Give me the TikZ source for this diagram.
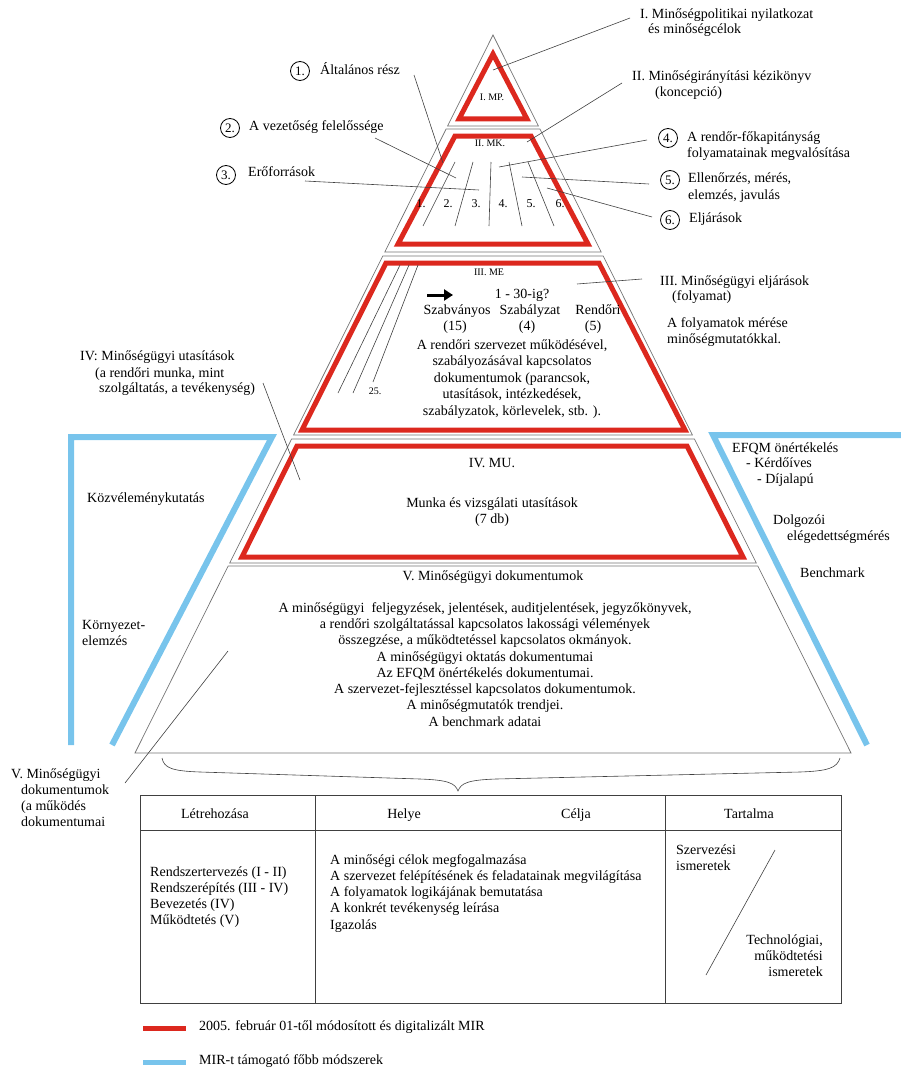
\documentclass[tikz,border=0pt]{standalone}
\usepackage{fontspec}
\setmainfont{Liberation Serif}
\usetikzlibrary{arrows.meta}
\definecolor{myred}{RGB}{220,40,30}
\definecolor{myblue}{RGB}{120,196,236}
\newcommand\setfs[1]{\fontsize{#1}{#1}\selectfont}
\begin{document}
\begin{tikzpicture}[x=1pt,y=-1pt,
  lvl/.style={draw=black!55, line width=0.7pt},
  redbox/.style={draw=myred, line width=5pt, line join=miter},
  blueline/.style={draw=myblue, line width=6pt, line join=miter},
  leader/.style={draw=black!75, line width=0.6pt},
  tbl/.style={draw=black!75, line width=0.8pt},
  tx/.style={font=\setfs{14}, inner sep=0pt},
  L/.style={tx, anchor=mid west},
  C/.style={tx, anchor=mid},
  R/.style={tx, anchor=mid east},
  sm/.style={font=\setfs{10}, inner sep=0pt, anchor=mid},
  nm/.style={font=\setfs{12}, inner sep=0pt, anchor=mid},
  tb/.style={font=\setfs{14}, inner sep=0pt, anchor=mid west},
  tbc/.style={font=\setfs{14}, inner sep=0pt, anchor=mid},
  tbr/.style={font=\setfs{14}, inner sep=0pt, anchor=mid east},
  circ/.style={circle, draw=black, line width=0.8pt, minimum size=19pt, inner sep=0pt, font=\setfs{13}}
]
\useasboundingbox (0,0) rectangle (901,1070);

% ---- pyramid levels (gray outlines)
\draw[lvl] (493,35) -- (538.4,126) -- (447.6,126) -- cycle;
\draw[lvl] (446.1,129) -- (539.9,129) -- (601.2,252) -- (384.8,252) -- cycle;
\draw[lvl] (382.8,256) -- (603.2,256) -- (692.4,435) -- (293.6,435) -- cycle;
\draw[lvl] (291.6,439) -- (694.4,439) -- (756.3,563) -- (229.7,563) -- cycle;
\draw[lvl] (228.2,566) -- (757.8,566) -- (851,753) -- (135,753) -- cycle;

% ---- red frames
\draw[redbox] (493,54) -- (527,119) -- (459,119) -- cycle;
\draw[redbox] (455,136) -- (531,136) -- (588,244) -- (398,244) -- cycle;
\draw[redbox] (386,263) -- (599,263) -- (685,430) -- (302,430) -- cycle;
\draw[redbox] (297,446) -- (687,446) -- (743,557) -- (242,557) -- cycle;

% ---- blue frames
\draw[blueline] (71,745) -- (71,437) -- (272,437) -- (112,745);
\draw[blueline] (901,435) -- (713,435) -- (867,745);

% ---- level I
\node[sm] (mp) at (492,98) {I. MP.};
\node[L] (t1a) at (640,16) {I. Minőségpolitikai nyilatkozat};
\node[L] (t1b) at (648,31) {és minőségcélok};
\coordinate (p1) at (493,70);
\coordinate (q1) at (630,18);
\draw[leader] (q1) -- (p1);

% ---- level II
\node[sm] (mk) at (490,144) {II. MK.};
\node[L] (t2a) at (632,78) {II. Minőségirányítási kézikönyv};
\node[L] (t2b) at (655,94) {(koncepció)};
\coordinate (p2) at (527,142);
\coordinate (q2) at (622,83);
\draw[leader] (q2) -- (p2);

\draw[leader] (455,162) -- (423,226);
\draw[leader] (473,162) -- (455,226);
\draw[leader] (491,162) -- (489,226);
\draw[leader] (509,162) -- (522,226);
\draw[leader] (528,162) -- (554,226);
\node[nm] (n1) at (421,205) {1.};
\node[nm] (n2) at (448,205) {2.};
\node[nm] (n3) at (476,205) {3.};
\node[nm] (n4) at (503,205) {4.};
\node[nm] (n5) at (531,205) {5.};
\node[nm] (n6) at (560,205) {6.};

\node[circ] (c1) at (300,71) {1.};
\node[L] (l1) at (320,72) {Általános rész};
\node[circ] (c2) at (230,128) {2.};
\node[L] (l2) at (249,128) {A vezetőség felelőssége};
\node[circ] (c3) at (226,175) {3.};
\node[L] (l3) at (248,174) {Erőforrások};
\node[circ] (c4) at (668,138) {4.};
\node[L] (l4a) at (687,139) {A rendőr-főkapitányság};
\node[L] (l4b) at (687,155) {folyamatainak megvalósítása};
\node[circ] (c5) at (670,180) {5.};
\node[L] (l5a) at (688,180) {Ellenőrzés, mérés,};
\node[L] (l5b) at (688,197) {elemzés, javulás};
\node[circ] (c6) at (670,220) {6.};
\node[L] (l6) at (689,220) {Eljárások};

\coordinate (a1) at (414,75);   \coordinate (b1) at (443,163);
\coordinate (a2) at (375,138);  \coordinate (b2) at (456,178);
\coordinate (a3) at (305,181);  \coordinate (b3) at (479,190);
\coordinate (a4) at (647,140);  \coordinate (b4) at (499,167);
\coordinate (a5) at (649,184);  \coordinate (b5) at (522,177);
\coordinate (a6) at (652,217);  \coordinate (b6) at (547,188);
\draw[leader] (a1) -- (b1);
\draw[leader] (a2) -- (b2);
\draw[leader] (a3) -- (b3);
\draw[leader] (a4) -- (b4);
\draw[leader] (a5) -- (b5);
\draw[leader] (a6) -- (b6);

% ---- level III
\node[sm] (me) at (489,273) {III. ME};
\draw[leader] (400,265) -- (338,393);
\draw[leader] (409,265) -- (353,393);
\draw[leader] (418,265) -- (373,382);
\node[sm] (n25) at (375,392) {25.};
\coordinate (ar1) at (427,295);
\coordinate (ar2) at (453,295);
\draw[line width=3pt, -{Triangle[length=9pt,width=11pt]}] (ar1) -- (ar2);
\node[C] (q30) at (522,296) {1 - 30-ig?};
\node[C] (szb) at (457,312) {Szabványos};
\node[C] (szl) at (530,312) {Szabályzat};
\node[C] (rnd) at (598,312) {Rendőri};
\node[C] (n15) at (455,328) {(15)};
\node[C] (n4b) at (527,328) {(4)};
\node[C] (n5b) at (593,328) {(5)};
\node[C] (m1) at (512,347) {A rendőri szervezet működésével,};
\node[C] (m2) at (512,363) {szabályozásával kapcsolatos};
\node[C] (m3) at (512,380) {dokumentumok (parancsok,};
\node[C] (m4) at (512,396) {utasítások, intézkedések,};
\node[C] (m5) at (512,413) {szabályzatok, körlevelek, stb. ).};

\node[L] (t3a) at (660,283) {III. Minőségügyi eljárások};
\node[L] (t3b) at (672,298) {(folyamat)};
\node[L] (t3c) at (667,325) {A folyamatok mérése};
\node[L] (t3d) at (667,341) {minőségmutatókkal.};
\coordinate (p3) at (577,284);
\coordinate (q3) at (642,279);
\draw[leader] (q3) -- (p3);

% ---- level IV
\node[C] (mu) at (492,465) {IV. MU.};
\node[C] (mu2) at (492,505) {Munka és vizsgálati utasítások};
\node[C] (mu3) at (492,521) {(7 db)};
\node[L] (t4a) at (80,358) {IV: Minőségügyi utasítások};
\node[L] (t4b) at (95,375) {(a rendőri munka, mint};
\node[L] (t4c) at (99,390) {szolgáltatás, a tevékenység)};
\coordinate (q4) at (263,383);
\coordinate (p4) at (300,480);
\draw[leader] (q4) -- (p4);

% ---- side texts
\node[L] (kv) at (87,500) {Közvéleménykutatás};
\node[L] (kz1) at (82,627) {Környezet-};
\node[L] (kz2) at (82,643) {elemzés};
\node[L] (ef1) at (732,450) {EFQM önértékelés};
\node[L] (ef2) at (746,465) {- Kérdőíves};
\node[L] (ef3) at (757,481) {- Díjalapú};
\node[L] (dg1) at (773,522) {Dolgozói};
\node[L] (dg2) at (787,538) {elégedettségmérés};
\node[L] (bm) at (800,575) {Benchmark};

% ---- level V
\node[C] (v0) at (493,578) {V. Minőségügyi dokumentumok};
\node[C] (v1) at (485,610) {A minőségügyi\ \ feljegyzések, jelentések, auditjelentések, jegyzőkönyvek,};
\node[C] (v2) at (485,626) {a rendőri szolgáltatással kapcsolatos lakossági vélemények};
\node[C] (v3) at (485,642) {összegzése, a működtetéssel kapcsolatos okmányok.};
\node[C] (v4) at (485,659) {A minőségügyi oktatás dokumentumai};
\node[C] (v5) at (485,675) {Az EFQM önértékelés dokumentumai.};
\node[C] (v6) at (485,691) {A szervezet-fejlesztéssel kapcsolatos dokumentumok.};
\node[C] (v7) at (485,707) {A minőségmutatók trendjei.};
\node[C] (v8) at (485,724) {A benchmark adatai};

\node[L] (t5a) at (11,776) {V. Minőségügyi};
\node[L] (t5b) at (21,792) {dokumentumok};
\node[L] (t5c) at (21,808) {(a működés};
\node[L] (t5d) at (21,824) {dokumentumai};
\coordinate (q5) at (125,783);
\coordinate (p5) at (228,651);
\draw[leader] (q5) -- (p5);

% ---- brace
\coordinate (brL) at (162,758);
\coordinate (brT) at (458,791);
\coordinate (brR) at (840,758);
\draw[leader] (brL) .. controls (164,768) and (172,771) .. (200,772)
  -- (420,779) .. controls (448,780) and (455,783) .. (brT)
  .. controls (461,783) and (468,780) .. (496,779)
  -- (800,772) .. controls (828,771) and (837,768) .. (brR);

% ---- table
\draw[tbl] (140,795) rectangle (841,1003);
\draw[tbl] (140,830) -- (841,830);
\draw[tbl] (315,795) -- (315,1003);
\draw[tbl] (665,795) -- (665,1003);
\node[tbc] (h1) at (215,816) {Létrehozása};
\node[tbc] (h2) at (404,816) {Helye};
\node[tbc] (h3) at (576,816) {Célja};
\node[tbc] (h4) at (749,816) {Tartalma};
\node[tb] (r1) at (150,874) {Rendszertervezés (I - II)};
\node[tb] (r2) at (150,890) {Rendszerépítés (III - IV)};
\node[tb] (r3) at (150,906) {Bevezetés (IV)};
\node[tb] (r4) at (150,922) {Működtetés (V)};
\node[tb] (s1) at (330,862) {A minőségi célok megfogalmazása};
\node[tb] (s2) at (330,878) {A szervezet felépítésének és feladatainak megvilágítása};
\node[tb] (s3) at (330,894) {A folyamatok logikájának bemutatása};
\node[tb] (s4) at (330,910) {A konkrét tevékenység leírása};
\node[tb] (s5) at (330,927) {Igazolás};
\node[tb] (u1) at (676,852) {Szervezési};
\node[tb] (u2) at (676,868) {ismeretek};
\node[tbr] (w1) at (823,942) {Technológiai,};
\node[tbr] (w2) at (823,958) {működtetési};
\node[tbr] (w3) at (823,974) {ismeretek};
\coordinate (dg) at (775,850);
\coordinate (dh) at (706,975);
\draw[leader] (dg) -- (dh);

% ---- legend
\coordinate (lr1) at (143,1028); \coordinate (lr2) at (186,1028);
\coordinate (lb1) at (143,1062); \coordinate (lb2) at (186,1062);
\draw[draw=myred, line width=5pt] (lr1) -- (lr2);
\draw[draw=myblue, line width=5pt] (lb1) -- (lb2);
\node[L] (lg1) at (199,1028) {2005. február 01-től módosított és digitalizált MIR};
\node[L] (lg2) at (199,1062) {MIR-t támogató főbb módszerek};
\end{tikzpicture}
\end{document}
